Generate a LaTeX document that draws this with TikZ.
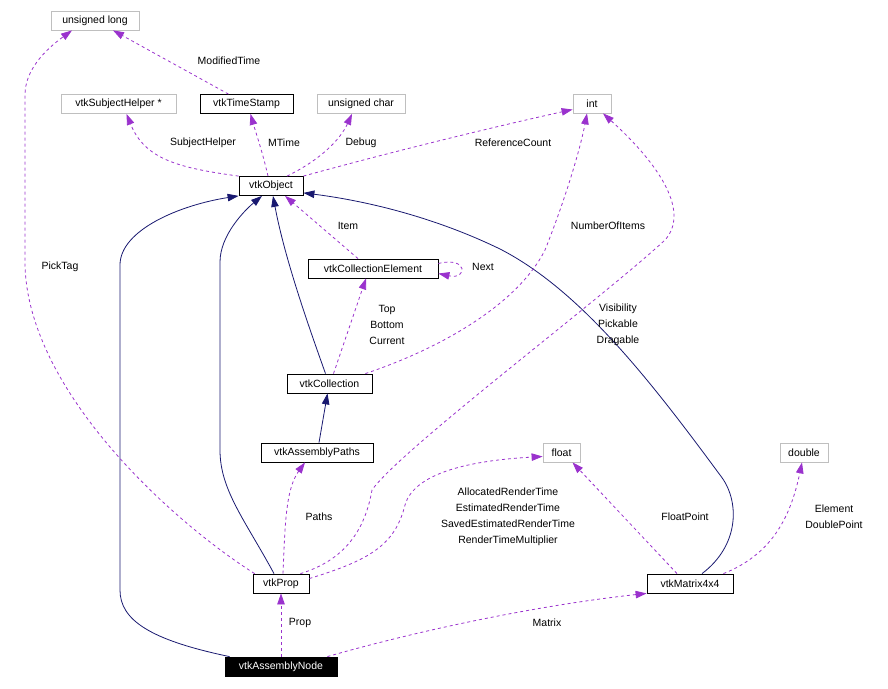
\documentclass[tikz,border=0pt]{standalone}
\usepackage{fontspec}
\setmainfont{Liberation Sans}
\usepackage{xcolor}
\usepackage{tikz}
\usetikzlibrary{arrows.meta}

\definecolor{usepurple}{RGB}{154,50,205}
\definecolor{inhnavy}{RGB}{25,25,112}
\definecolor{extgray}{RGB}{191,191,191}

\begin{document}
\begin{tikzpicture}[
  x=1pt, y=-1pt,
  font=\fontsize{10.5}{16}\selectfont,
  cls/.style={rectangle, draw=black, fill=white, line width=0.8pt,
              minimum height=19pt, inner sep=0pt},
  ext/.style={cls, draw=extgray},
  self/.style={cls, fill=black, text=white},
  uses/.style={draw=usepurple, line width=0.8pt, dash pattern=on 3pt off 3pt,
               -{Triangle[length=11pt,width=7.5pt]}},
  isa/.style={draw=inhnavy, line width=0.8pt, -{Triangle[length=11pt,width=7.5pt]}},
  lbl/.style={align=center, inner sep=0pt},
]
  \useasboundingbox (0,0) rectangle (888,688);

  % member types
  \node[ext, minimum width=88pt] (ulong) at (95,20.5) {unsigned long};
  \node[ext, minimum width=115pt] (sh) at (118.5,104) {vtkSubjectHelper *};
  \node[cls, minimum width=93pt] (ts) at (246.5,104) {vtkTimeStamp};
  \node[ext, minimum width=88pt] (uchar) at (361,104) {unsigned char};
  \node[ext, minimum width=38pt] (int) at (592,103.5) {int};
  \node[ext, minimum width=37pt] (flt) at (561.5,452.5) {float};
  \node[ext, minimum width=48pt] (dbl) at (804,452.5) {double};

  % classes
  \node[cls, minimum width=64pt] (obj) at (271,186) {vtkObject};
  \node[cls, minimum width=130pt] (ce) at (373,268.5) {vtkCollectionElement};
  \node[cls, minimum width=85pt] (coll) at (329.5,383.5) {vtkCollection};
  \node[cls, minimum width=112pt] (paths) at (317,452.5) {vtkAssemblyPaths};
  \node[cls, minimum width=56pt] (prop) at (281,583.5) {vtkProp};
  \node[cls, minimum width=86pt] (mat) at (690,583.5) {vtkMatrix4x4};
  \node[self, minimum width=112pt] (an) at (281,666.5) {vtkAssemblyNode};

  % inheritance
  \draw[isa] ([xshift=5pt]an.north west) .. controls (150,640) and (120,620) .. (120,590)
             -- (120,265) .. controls (120,230) and (180,205) .. (obj.south west);
  \draw[isa] ([xshift=-7pt]prop.north) .. controls (245,520) and (220,490) .. (220,450)
             -- (220,262) .. controls (220,235) and (245,210) .. ([xshift=-9pt]obj.south);
  \draw[isa] ([xshift=-4pt]coll.north) .. controls (310,330) and (285,260) .. ([xshift=2pt]obj.south);
  \draw[isa] ([xshift=2pt]paths.north) -- ([xshift=-2pt]coll.south);
  \draw[isa] ([xshift=12pt]mat.north) .. controls (740,545) and (740,500) .. (720,475)
             .. controls (650,380) and (580,290) .. (500,249)
             .. controls (430,215) and (360,200) .. ([yshift=3pt]obj.south east);

  % usage
  \draw[uses] ([xshift=2pt]prop.north west) .. controls (170,520) and (28,390) .. (25,265)
              -- (25,95) .. controls (25,70) and (45,50) .. ([xshift=-23pt]ulong.south);
  \draw[uses] ([xshift=-18pt]ts.north) -- ([xshift=18pt]ulong.south);
  \draw[uses] (obj.north west) .. controls (180,168) and (145,160) .. ([xshift=8pt]sh.south);
  \draw[uses] ([xshift=-3pt]obj.north) .. controls (262,150) and (255,130) .. ([xshift=4pt]ts.south);
  \draw[uses] ([xshift=16pt]obj.north) .. controls (320,160) and (340,140) .. ([xshift=-9pt]uchar.south);
  \draw[uses] (obj.north east) .. controls (380,155) and (480,130) .. ([yshift=-6pt]int.west);
  \draw[uses] ([xshift=-15pt]ce.north) -- ([xshift=14pt]obj.south);
  \draw[uses] ([yshift=5pt]ce.east) .. controls (468,256) and (468,280) .. ([yshift=-5pt]ce.east);
  \draw[uses] ([xshift=4pt]coll.north) -- ([xshift=-7pt]ce.south);
  \draw[uses] ([xshift=-7pt]coll.north east) .. controls (450,345) and (520,300) .. (545,250)
              .. controls (565,200) and (580,150) .. ([xshift=-5pt]int.south);
  \draw[uses] ([xshift=-9pt]prop.north east) .. controls (345,560) and (365,530) .. (372,490)
              .. controls (400,450) and (600,300) .. (665,240)
              .. controls (690,212) and (660,165) .. ([xshift=11pt]int.south);
  \draw[uses] ([xshift=2pt]prop.north) .. controls (285,530) and (285,490) .. ([xshift=-12pt]paths.south);
  \draw[uses] ([yshift=5pt]prop.east) .. controls (370,560) and (395,545) .. (405,505)
              .. controls (415,470) and (480,460) .. ([yshift=-4pt]flt.west);
  \draw[uses] ([xshift=-13pt]mat.north) -- ([xshift=11pt]flt.south);
  \draw[uses] ([xshift=-10pt]mat.north east) .. controls (770,555) and (790,520) .. ([xshift=-2pt]dbl.south);
  \draw[uses] (an.north) -- (prop.south);
  \draw[uses] ([xshift=-10pt]an.north east) .. controls (420,630) and (540,605) .. (mat.south west);

  % member names
  \node[lbl] (lpick) at (60,267) {PickTag};
  \node[lbl] (lmod) at (229,61) {ModifiedTime};
  \node[lbl] (lsh) at (203,143) {SubjectHelper};
  \node[lbl] (lmtime) at (284,143) {MTime};
  \node[lbl] (ldebug) at (361,143) {Debug};
  \node[lbl] (lref) at (513,143) {ReferenceCount};
  \node[lbl] (litem) at (348,226) {Item};
  \node[lbl] (lnext) at (483,267) {Next};
  \node[lbl] (lnum) at (608,226) {NumberOfItems};
  \node[lbl] (ltop) at (387,325) {Top\\Bottom\\Current};
  \node[lbl] (lvis) at (618,325) {Visibility\\Pickable\\Dragable};
  \node[lbl] (lpaths) at (319,517) {Paths};
  \node[lbl] (ltime) at (508,517) {AllocatedRenderTime\\EstimatedRenderTime\\SavedEstimatedRenderTime\\RenderTimeMultiplier};
  \node[lbl] (lfp) at (685,517) {FloatPoint};
  \node[lbl] (ldp) at (834,517) {Element\\DoublePoint};
  \node[lbl] (lprop) at (300,623) {Prop};
  \node[lbl] (lmat) at (547,623) {Matrix};
\end{tikzpicture}
\end{document}
